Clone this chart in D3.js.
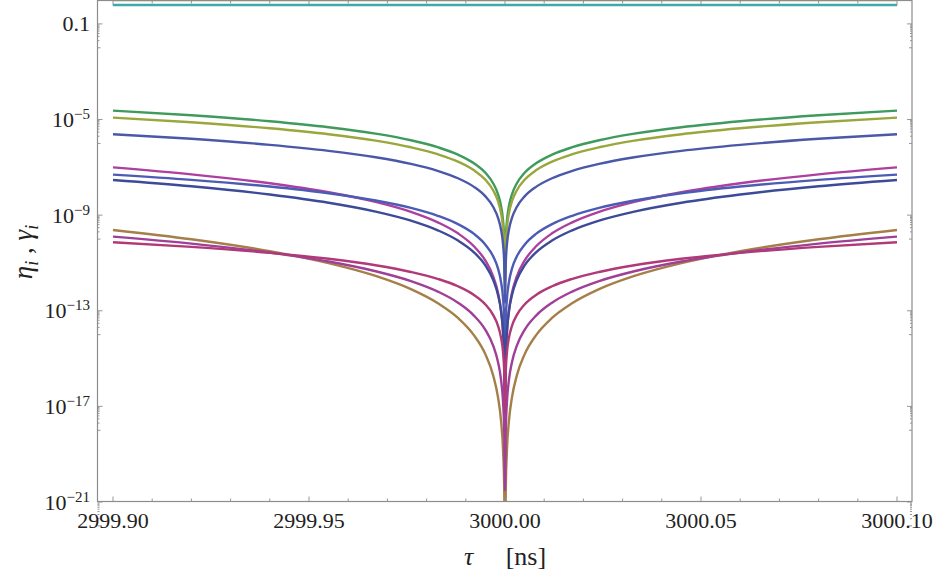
<!DOCTYPE html>
<html>
<head>
<meta charset="utf-8">
<script src="https://cdn.jsdelivr.net/npm/d3@7"></script>
<style>
body { margin: 0; background: #fff; }
text { font-family: "Times New Roman", "Liberation Serif", Tinos, "DejaVu Serif", serif; fill: #222; }
</style>
</head>
<body>
<svg id="chart" width="940" height="579"></svg>
<script>
// sample positions (ns), denser near the cusp at 3000
const tau = [2999.90, 2999.92, 2999.94, 2999.955, 2999.967, 2999.976, 2999.983, 2999.988, 2999.992, 2999.995,
	2999.997, 2999.9982, 2999.999, 2999.9995, 2999.9998, 3000.00, 3000.0002, 3000.0005, 3000.001, 3000.0018,
	3000.003, 3000.005, 3000.008, 3000.012, 3000.017, 3000.024, 3000.033, 3000.045, 3000.06, 3000.08, 3000.10]

const green = [2.36e-5, 1.51e-5, 8.5e-6, 4.78e-6, 2.57e-6, 1.36e-6, 6.8e-7, 3.4e-7, 1.51e-7, 5.9e-8,
	2.12e-8, 7.6e-9, 2.36e-9, 5.9e-10, 9.4e-11, 2e-12, 9.4e-11, 5.9e-10, 2.36e-9, 7.6e-9,
	2.12e-8, 5.9e-8, 1.51e-7, 3.4e-7, 6.8e-7, 1.36e-6, 2.57e-6, 4.78e-6, 8.5e-6, 1.51e-5, 2.36e-5]
const olive = [1.2e-5, 7.7e-6, 4.3e-6, 2.43e-6, 1.31e-6, 6.9e-7, 3.47e-7, 1.73e-7, 7.7e-8, 3.0e-8,
	1.08e-8, 3.9e-9, 1.2e-9, 3.0e-10, 4.8e-11, 1e-12, 4.8e-11, 3.0e-10, 1.2e-9, 3.9e-9,
	1.08e-8, 3.0e-8, 7.7e-8, 1.73e-7, 3.47e-7, 6.9e-7, 1.31e-6, 2.43e-6, 4.3e-6, 7.7e-6, 1.2e-5]
const blueA = [2.43e-6, 1.56e-6, 8.7e-7, 4.9e-7, 2.65e-7, 1.4e-7, 7.0e-8, 3.5e-8, 1.56e-8, 6.1e-9,
	2.19e-9, 7.9e-10, 2.43e-10, 6.1e-11, 9.7e-12, 2e-13, 9.7e-12, 6.1e-11, 2.43e-10, 7.9e-10,
	2.19e-9, 6.1e-9, 1.56e-8, 3.5e-8, 7.0e-8, 1.4e-7, 2.65e-7, 4.9e-7, 8.7e-7, 1.56e-6, 2.43e-6]
const magentaA = [1.0e-7, 5.1e-8, 2.16e-8, 9.1e-9, 3.6e-9, 1.38e-9, 4.9e-10, 1.73e-10, 5.1e-11, 1.25e-11,
	2.7e-12, 5.8e-13, 1.0e-13, 1.25e-14, 8e-16, 2.4e-18, 8e-16, 1.25e-14, 1.0e-13, 5.8e-13,
	2.7e-12, 1.25e-11, 5.1e-11, 1.73e-10, 4.9e-10, 1.38e-9, 3.6e-9, 9.1e-9, 2.16e-8, 5.1e-8, 1.0e-7]
const blueB = [4.95e-8, 3.0e-8, 1.57e-8, 8.2e-9, 4.08e-9, 2.0e-9, 9.2e-10, 4.2e-10, 1.68e-10, 5.8e-11,
	1.86e-11, 5.9e-12, 1.56e-12, 3.3e-13, 4.2e-14, 5.4e-16, 4.2e-14, 3.3e-13, 1.56e-12, 5.9e-12,
	1.86e-11, 5.8e-11, 1.68e-10, 4.2e-10, 9.2e-10, 2.0e-9, 4.08e-9, 8.2e-9, 1.57e-8, 3.0e-8, 4.95e-8]
const blueC = [2.97e-8, 1.61e-8, 7.3e-9, 3.3e-9, 1.41e-9, 5.9e-10, 2.27e-10, 8.7e-11, 2.86e-11, 7.9e-12,
	1.93e-12, 4.7e-13, 9.4e-14, 1.4e-14, 1.12e-15, 5.5e-18, 1.12e-15, 1.4e-14, 9.4e-14, 4.7e-13,
	1.93e-12, 7.9e-12, 2.86e-11, 8.7e-11, 2.27e-10, 5.9e-10, 1.41e-9, 3.3e-9, 7.3e-9, 1.61e-8, 2.97e-8]
const brown = [2.4e-10, 9.8e-11, 3.1e-11, 9.8e-12, 2.85e-12, 8.0e-13, 2.0e-13, 5.0e-14, 9.8e-15, 1.5e-15,
	1.94e-16, 2.5e-17, 2.4e-18, 1.5e-19, 3.8e-21, 1e-24, 3.8e-21, 1.5e-19, 2.4e-18, 2.5e-17,
	1.94e-16, 1.5e-15, 9.8e-15, 5.0e-14, 2.0e-13, 8.0e-13, 2.85e-12, 9.8e-12, 3.1e-11, 9.8e-11, 2.4e-10]
const magentaB = [1.26e-10, 6.45e-11, 2.72e-11, 1.15e-11, 4.5e-12, 1.74e-12, 6.2e-13, 2.18e-13, 6.45e-14, 1.58e-14,
	3.4e-15, 7.3e-16, 1.26e-16, 1.58e-17, 1.0e-18, 3e-21, 1.0e-18, 1.58e-17, 1.26e-16, 7.3e-16,
	3.4e-15, 1.58e-14, 6.45e-14, 2.18e-13, 6.2e-13, 1.74e-12, 4.5e-12, 1.15e-11, 2.72e-11, 6.45e-11, 1.26e-10]
const crimson = [7.35e-11, 4.7e-11, 2.65e-11, 1.49e-11, 8.0e-12, 4.2e-12, 2.12e-12, 1.06e-12, 4.7e-13, 1.84e-13,
	6.6e-14, 2.4e-14, 7.35e-15, 1.84e-15, 2.9e-16, 6e-18, 2.9e-16, 1.84e-15, 7.35e-15, 2.4e-14,
	6.6e-14, 1.84e-13, 4.7e-13, 1.06e-12, 2.12e-12, 4.2e-12, 8.0e-12, 1.49e-11, 2.65e-11, 4.7e-11, 7.35e-11]

// flat curves near the top
const tauFlat = [2999.90, 3000.10]
const pale = [0.97, 0.97]
const cyan = [0.62, 0.62]

const series = [
	{ values: pale, color: '#d9d39a', t: tauFlat },
	{ values: cyan, color: '#3eaaad', t: tauFlat },
	{ values: green, color: '#3f9a5c', t: tau },
	{ values: olive, color: '#9aa73c', t: tau },
	{ values: blueA, color: '#4b58a8', t: tau },
	{ values: magentaA, color: '#ad3f9f', t: tau },
	{ values: blueB, color: '#4c5cb4', t: tau },
	{ values: blueC, color: '#3c4a98', t: tau },
	{ values: brown, color: '#a57f48', t: tau },
	{ values: magentaB, color: '#a03f98', t: tau },
	{ values: crimson, color: '#b03a78', t: tau }
]

const xMajor = [2999.90, 2999.95, 3000.00, 3000.05, 3000.10]
const xMajorLabels = ['2999.90', '2999.95', '3000.00', '3000.05', '3000.10']
const yMajorExp = [-21, -17, -13, -9, -5, -1]

const svg = d3.select('#chart')
const pLeft = 97.5, pRight = 912, pTop = 0.5, pBottom = 501.5

const x = d3.scaleLinear().domain([2999.90, 3000.10]).range([113, 897])
const y = d3.scaleLog().domain([1e-21, 1]).range([502, 0])

svg.append('defs').append('clipPath').attr('id', 'plot')
	.append('rect').attr('x', pLeft).attr('y', pTop).attr('width', pRight - pLeft).attr('height', pBottom - pTop)

// curves
const line = d3.line()
	.x(d => x(d[0]))
	.y(d => y(d[1]))
	.curve(d3.curveMonotoneX)

const curves = svg.append('g').attr('clip-path', 'url(#plot)')
series.forEach(s => {
	curves.append('path')
		.attr('d', line(s.values.map((v, i) => [s.t[i], v])))
		.attr('fill', 'none')
		.attr('stroke', s.color)
		.attr('stroke-width', 2.4)
		.attr('stroke-linejoin', 'round')
})

// frame
const axisColor = '#8c8c8c'
svg.append('rect')
	.attr('x', pLeft).attr('y', pTop).attr('width', pRight - pLeft).attr('height', pBottom - pTop)
	.attr('fill', 'none').attr('stroke', axisColor).attr('stroke-width', 1.2)

const ticks = svg.append('g').attr('stroke', axisColor).attr('stroke-width', 0.9)

// x ticks, bottom and top
const xMinor = d3.range(0, 21).map(i => 2999.90 + i * 0.01)
xMinor.forEach(v => {
	const major = xMajor.some(m => Math.abs(m - v) < 1e-6)
	const len = major ? 5 : 3
	ticks.append('line').attr('x1', x(v)).attr('x2', x(v)).attr('y1', pBottom).attr('y2', pBottom - len)
	ticks.append('line').attr('x1', x(v)).attr('x2', x(v)).attr('y1', pTop).attr('y2', pTop + len)
})

// y ticks, left and right
yMajorExp.forEach(e => {
	const v = Math.pow(10, e)
	ticks.append('line').attr('x1', pLeft).attr('x2', pLeft + 5).attr('y1', y(v)).attr('y2', y(v))
	ticks.append('line').attr('x1', pRight).attr('x2', pRight - 5).attr('y1', y(v)).attr('y2', y(v))
	d3.range(1, 10).forEach(j => {
		const m = j * Math.pow(10, e - 1)
		const len = j === 1 ? 3 : 2
		ticks.append('line').attr('x1', pLeft).attr('x2', pLeft + len).attr('y1', y(m)).attr('y2', y(m))
		ticks.append('line').attr('x1', pRight).attr('x2', pRight - len).attr('y1', y(m)).attr('y2', y(m))
	})
})

// x tick labels
xMajor.forEach((v, i) => {
	svg.append('text')
		.attr('x', x(v)).attr('y', 528)
		.attr('text-anchor', 'middle')
		.style('font-size', '22px')
		.text(xMajorLabels[i])
})

// y tick labels
yMajorExp.forEach(e => {
	const t = svg.append('text')
		.attr('x', 90).attr('y', y(Math.pow(10, e)) + 7.5)
		.attr('text-anchor', 'end')
		.style('font-size', '22px')
	if (e === -1) {
		t.text('0.1')
	} else {
		t.append('tspan').text('10')
		t.append('tspan').attr('dy', -8).style('font-size', '15px').text('\u2212' + Math.abs(e))
	}
})

// axis titles
const xt = svg.append('text')
	.attr('x', 505).attr('y', 565)
	.attr('text-anchor', 'middle')
	.style('font-size', '26px')
xt.append('tspan').style('font-style', 'italic').text('\u03c4')
xt.append('tspan').attr('xml:space', 'preserve').text('\u2003 [ns]')

const yt = svg.append('text')
	.attr('transform', 'translate(32,252) rotate(-90)')
	.attr('text-anchor', 'middle')
	.style('font-size', '27px')
yt.append('tspan').style('font-style', 'italic').text('\u03b7')
yt.append('tspan').attr('dy', 6).style('font-size', '18px').style('font-style', 'italic').text('i')
yt.append('tspan').attr('dy', -6).text(' , ')
yt.append('tspan').style('font-style', 'italic').text('\u03b3')
yt.append('tspan').attr('dy', 6).style('font-size', '18px').style('font-style', 'italic').text('i')
</script>
</body>
</html>
